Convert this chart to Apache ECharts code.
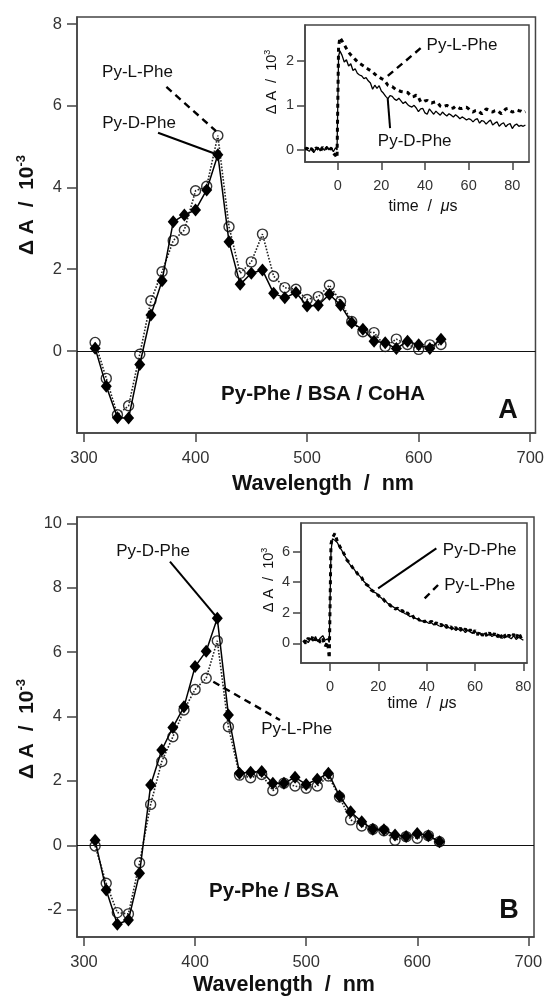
<!DOCTYPE html>
<html>
<head>
<meta charset="utf-8">
<script src="https://cdn.jsdelivr.net/npm/echarts@6/dist/echarts.min.js"></script>
<style>html,body{margin:0;padding:0;background:#fff}#c{width:547px;height:1004px}</style>
</head>
<body>
<div id="c"></div>
<script>
// ---------- data ----------
const wavelengths = [310,320,330,340,350,360,370,380,390,400,410,420,430,440,450,460,470,480,490,500,510,520,530,540,550,560,570,580,590,600,610,620];
const specA_D = [0.07,-0.86,-1.63,-1.64,-0.33,0.88,1.72,3.16,3.33,3.45,3.94,4.80,2.67,1.63,1.90,1.98,1.41,1.30,1.43,1.10,1.12,1.39,1.12,0.69,0.53,0.24,0.20,0.06,0.24,0.15,0.06,0.29];
const specA_L = [0.21,-0.67,-1.56,-1.34,-0.08,1.23,1.94,2.70,2.96,3.92,4.03,5.27,3.04,1.90,2.18,2.86,1.83,1.55,1.51,1.26,1.33,1.61,1.21,0.72,0.47,0.45,0.11,0.29,0.16,0.04,0.15,0.16];
const specB_D = [0.16,-1.39,-2.45,-2.32,-0.87,1.87,2.96,3.66,4.30,5.55,6.03,7.05,4.05,2.24,2.27,2.29,1.93,1.93,2.11,1.89,2.05,2.24,1.53,1.04,0.73,0.50,0.48,0.32,0.27,0.37,0.30,0.11];
const specB_L = [-0.02,-1.18,-2.09,-2.13,-0.54,1.27,2.60,3.37,4.20,4.84,5.19,6.35,3.68,2.18,2.10,2.20,1.70,1.93,1.84,1.77,1.84,2.15,1.50,0.79,0.60,0.50,0.45,0.16,0.27,0.22,0.30,0.11];

const timeA = [-15,-14,-13,-12,-11,-10,-9,-8,-7,-6,-5,-4,-3,-2,-1,-0.3,0.4,1,2,3,4,5,6,7,8,9,10,11,12,13,14,15,16,17,18,19,20,21,22,23,24,25,26,27,28,29,30,31,32,33,34,35,36,37,38,39,40,41,42,43,44,45,46,47,48,49,50,51,52,53,54,55,56,57,58,59,60,61,62,63,64,65,66,67,68,69,70,71,72,73,74,75,76,77,78,79,80,81,82,83,84,85,86];
const kinA_D = [0.03,0.00,-0.03,0.05,-0.06,0.02,0.06,-0.02,0.04,-0.01,0.08,0.00,0.06,-0.04,0.05,0.00,2.10,2.22,2.12,1.97,2.02,1.88,1.93,1.78,1.82,1.72,1.68,1.66,1.60,1.62,1.55,1.50,1.36,1.45,1.38,1.44,1.32,1.27,1.20,1.15,1.22,1.20,1.14,1.11,1.16,1.10,1.04,1.08,1.02,0.98,0.96,1.00,0.94,0.86,0.92,0.93,0.83,0.80,0.92,0.86,0.80,0.87,0.82,0.78,0.85,0.80,0.76,0.81,0.78,0.74,0.79,0.75,0.70,0.74,0.71,0.67,0.70,0.68,0.63,0.68,0.70,0.60,0.66,0.64,0.58,0.63,0.67,0.56,0.60,0.63,0.53,0.58,0.61,0.52,0.57,0.59,0.48,0.55,0.58,0.53,0.55,0.53,0.56];
const kinA_L = [0.02,0.04,-0.02,0.03,-0.03,0.05,0.02,-0.04,0.06,0.00,0.05,-0.03,0.04,-0.08,-0.12,-0.18,2.30,2.52,2.44,2.36,2.27,2.19,2.13,2.08,2.03,1.98,1.94,1.91,1.88,1.84,1.81,1.78,1.75,1.70,1.66,1.63,1.60,1.58,1.52,1.45,1.43,1.42,1.38,1.34,1.33,1.31,1.30,1.30,1.29,1.24,1.19,1.20,1.23,1.18,1.08,1.07,1.10,1.11,1.07,1.05,1.07,1.08,1.05,0.98,0.96,0.98,1.00,0.97,0.93,0.94,0.98,0.96,0.93,0.93,0.95,0.96,0.92,0.87,0.85,0.88,0.89,0.85,0.81,0.85,0.92,0.90,0.86,0.85,0.88,0.89,0.85,0.81,0.86,0.92,0.93,0.88,0.85,0.87,0.90,0.88,0.87,0.84,0.86];

const timeB = [-11,-10,-9,-8,-7,-6,-5,-4,-3,-2,-1,-0.3,0.4,1,2,3,4,5,6,7,8,9,10,11,12,13,14,15,16,17,18,19,20,21,22,23,24,25,26,27,28,29,30,31,32,33,34,35,36,37,38,39,40,41,42,43,44,45,46,47,48,49,50,51,52,53,54,55,56,57,58,59,60,61,62,63,64,65,66,67,68,69,70,71,72,73,74,75,76,77,78,79,80];
const kinB_D = [0.10,0.20,0.05,0.30,0.15,0.45,0.10,0.35,0.50,0.20,0.30,0.05,6.00,6.85,6.75,6.60,6.30,6.05,5.75,5.50,5.20,5.00,4.85,4.60,4.45,4.30,4.05,3.90,3.70,3.55,3.35,3.30,3.10,3.00,2.85,2.75,2.60,2.55,2.40,2.30,2.25,2.10,2.05,1.95,1.90,1.75,1.80,1.65,1.60,1.55,1.45,1.50,1.40,1.30,1.35,1.20,1.25,1.15,1.10,1.20,1.00,1.05,0.95,1.00,0.85,0.95,0.80,0.90,0.70,0.85,0.75,0.65,0.80,0.60,0.70,0.55,0.65,0.50,0.60,0.45,0.55,0.50,0.40,0.55,0.35,0.45,0.40,0.30,0.50,0.25,0.40,0.30,0.20];
const kinB_L = [0.20,0.00,0.35,0.10,0.50,0.20,0.40,0.05,0.30,-0.20,0.10,-0.98,6.50,6.90,7.20,6.70,6.35,6.10,5.80,5.45,5.30,5.05,4.80,4.65,4.40,4.35,4.00,3.85,3.75,3.50,3.40,3.20,3.15,2.95,2.90,2.70,2.65,2.45,2.45,2.25,2.30,2.10,2.15,1.90,2.00,1.80,1.85,1.60,1.70,1.50,1.60,1.40,1.50,1.35,1.45,1.20,1.35,1.15,1.25,1.05,1.20,0.95,1.10,0.85,1.05,0.80,1.00,0.75,0.95,0.70,0.90,0.60,0.85,0.55,0.80,0.50,0.75,0.45,0.70,0.40,0.65,0.35,0.70,0.35,0.60,0.30,0.55,0.35,0.60,0.30,0.70,0.40,0.55];

const xTicksMain = [300,400,500,600,700];
const yTicksA = [0,2,4,6,8];
const yTicksB = [-2,0,2,4,6,8,10];
const xTicksInset = [0,20,40,60,80];
const yTicksInsetA = [0,1,2];
const yTicksInsetB = [0,2,4,6];

// leader lines (annotation, data coordinates)
const leaders = [
  {grid:0, dashed:true,  pts:[[373.9,6.46],[418.4,5.38]]},
  {grid:0, dashed:false, pts:[[366.4,5.34],[420,4.80]]},
  {grid:1, dashed:true,  pts:[[38.0,2.28],[22.5,1.64]]},
  {grid:1, dashed:false, pts:[[24.0,0.49],[22.9,1.16]]},
  {grid:2, dashed:false, pts:[[377.4,8.81],[419,7.1]]},
  {grid:2, dashed:true,  pts:[[416.4,5.08],[476.4,3.89]]},
  {grid:3, dashed:false, pts:[[44.0,6.22],[19.9,3.60]]},
  {grid:3, dashed:true,  pts:[[44.7,3.82],[37.8,2.72]]}
];

// ---------- chart ----------
const FF = '"Liberation Sans", Arial, Helvetica, sans-serif';
const AX = '#444';
const zip = (a,b) => a.map((v,i)=>[v,b[i]]);

function axis(gi, min, max, ticks, fs, len, margin){
  return {type:'value', gridIndex:gi, min, max,
    axisLine:{show:true, onZero:false, lineStyle:{color:AX, width:1.5}},
    splitLine:{show:false},
    axisTick:{show:true, inside:false, length:len, customValues:ticks, lineStyle:{color:AX, width:1.5}},
    axisLabel:{show:true, customValues:ticks, fontSize:fs, color:'#333', margin, fontFamily:FF}};
}

const grids = [
  {left:77, top:17, width:460, height:416},
  {left:305, top:25, width:224, height:137},
  {left:77, top:517, width:457, height:420},
  {left:301, top:523, width:226, height:140}
].map(g => Object.assign(g, {show:true, borderColor:AX, borderWidth:1.5, backgroundColor:'#fff', containLabel:false}));

const xAxes = [
  axis(0, 293.75, 704.7, xTicksMain, 16.5, 9, 17),
  axis(1, -14.98, 87.65, xTicksInset, 14.5, 8, 16),
  axis(2, 293.7, 705.1, xTicksMain, 16.5, 9, 17),
  axis(3, -12.0, 81.5, xTicksInset, 14.5, 8, 16)
];
const yAxes = [
  axis(0, -2.006, 8.171, yTicksA, 16.5, 10, 15),
  axis(1, -0.27, 2.80, yTicksInsetA, 14.5, 8, 11),
  axis(2, -2.848, 10.196, yTicksB, 16.5, 10, 15),
  axis(3, -1.29, 7.88, yTicksInsetB, 14.5, 8, 11)
];

function specSeries(gi, dData, lData){
  return [
    {type:'line', xAxisIndex:gi, yAxisIndex:gi, data:zip(wavelengths, lData), z:3,
     symbol:'circle', symbolSize:10, showAllSymbol:true,
     lineStyle:{color:'#222', width:1.6, type:'dotted'},
     itemStyle:{color:'rgba(255,255,255,0)', borderColor:'#333', borderWidth:1.4},
     markLine:{silent:true, symbol:'none', label:{show:false}, data:[{yAxis:0}],
       lineStyle:{color:'#111', width:1.2, type:'solid'}}},
    {type:'line', xAxisIndex:gi, yAxisIndex:gi, data:zip(wavelengths, dData), z:4,
     symbol:'diamond', symbolSize:[11,13], showAllSymbol:true,
     lineStyle:{color:'#000', width:1.5, type:'solid'},
     itemStyle:{color:'#000'}}
  ];
}
function kinSeries(gi, t, dData, lData){
  return [
    {type:'line', xAxisIndex:gi, yAxisIndex:gi, data:zip(t, dData), z:4, symbol:'none',
     lineStyle:{color:'#000', width:1.3, type:'solid'}},
    {type:'line', xAxisIndex:gi, yAxisIndex:gi, data:zip(t, lData), z:3, symbol:'none',
     lineStyle:{color:'#000', width:3, type:[4,4]}}
  ];
}

const series = [].concat(
  specSeries(0, specA_D, specA_L),
  kinSeries(1, timeA, kinA_D, kinA_L),
  specSeries(2, specB_D, specB_L),
  kinSeries(3, timeB, kinB_D, kinB_L),
  leaders.map(l => ({type:'line', xAxisIndex:l.grid, yAxisIndex:l.grid, data:l.pts, symbol:'none', silent:true, z:5,
    lineStyle:{color:'#000', width:l.dashed?2.4:2, type:l.dashed?[7,5]:'solid'}}))
);

function txt(x, y, s, fs, bold){
  return {type:'text', x, y, z:100, style:{text:s, x:0, y:0, align:'center', verticalAlign:'middle',
    fontSize:fs, fontWeight:bold?'bold':'normal', fontFamily:FF, fill:'#111'}};
}
function vtitle(x, y, main, sup, fs, bold){
  return {type:'text', x, y, rotation:Math.PI/2, z:100,
    style:{text:'{b|'+main+'}{s|'+sup+'}', x:0, y:0, align:'center', verticalAlign:'middle', fill:'#111',
      rich:{b:{fontSize:fs, fontWeight:bold?'bold':'normal', fontFamily:FF, fill:'#111', lineHeight:fs+4},
            s:{fontSize:Math.round(fs*0.62), fontWeight:bold?'bold':'normal', fontFamily:FF, fill:'#111', verticalAlign:'top', lineHeight:fs*0.62}}}};
}
function timeTitle(x, y){
  return {type:'text', x, y, z:100, style:{text:'{a|time  /  }{m|μ}{a|s}', x:0, y:0, align:'center', verticalAlign:'middle',
    rich:{a:{fontSize:16, fontFamily:FF, fill:'#111'}, m:{fontSize:16, fontFamily:FF, fontStyle:'italic', fill:'#111'}}}};
}

const graphics = [
  vtitle(27, 205, 'Δ A  /  10', '-3', 21, true),
  vtitle(27, 729, 'Δ A  /  10', '-3', 21, true),
  vtitle(272, 82, 'Δ A  /  10', '3', 14.5, false),
  vtitle(269, 580, 'Δ A  /  10', '3', 14.5, false),
  txt(323, 484, 'Wavelength  /  nm', 21.5, true),
  txt(284, 985, 'Wavelength  /  nm', 21.5, true),
  timeTitle(423, 207),
  timeTitle(422, 704),
  txt(323, 394, 'Py-Phe / BSA / CoHA', 20.5, true),
  txt(274, 891, 'Py-Phe / BSA', 20.5, true),
  txt(508, 411, 'A', 27, true),
  txt(509, 911, 'B', 27, true),
  txt(137.5, 72, 'Py-L-Phe', 17, false),
  txt(139, 123.5, 'Py-D-Phe', 17, false),
  txt(462, 45, 'Py-L-Phe', 17, false),
  txt(414.7, 141, 'Py-D-Phe', 17, false),
  txt(153, 551, 'Py-D-Phe', 17, false),
  txt(296.7, 729, 'Py-L-Phe', 17, false),
  txt(479.7, 550, 'Py-D-Phe', 17, false),
  txt(479.7, 585, 'Py-L-Phe', 17, false)
];

const chart = echarts.init(document.getElementById('c'), null, {renderer:'canvas'});
chart.setOption({
  animation:false,
  backgroundColor:'#fff',
  grid:grids, xAxis:xAxes, yAxis:yAxes, series, graphic:graphics
});
</script>
</body>
</html>
